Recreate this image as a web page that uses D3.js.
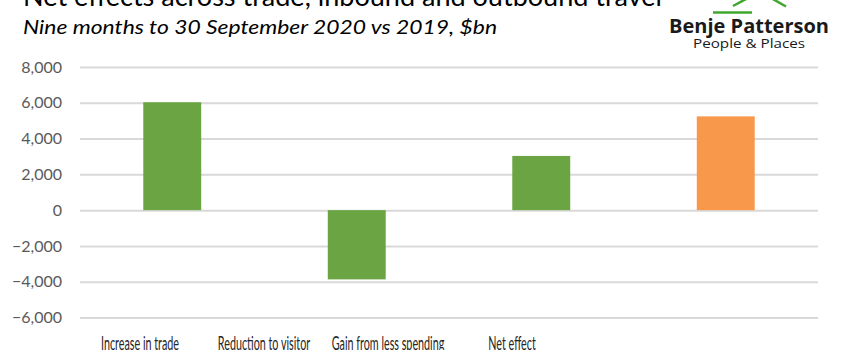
<!DOCTYPE html>
<html><head><meta charset="utf-8">
<script src="https://cdn.jsdelivr.net/npm/d3@7"></script>
<style>body{margin:0;background:#fff;} svg{display:block;}</style>
</head><body>
<svg id="chart" width="841" height="350"></svg>
<script>
const categories = ["Increase in trade", "Reduction to visitor", "Gain from less spending", "Net effect"];
const values = [6030, -3870, 3030, 5240];
const barColors = ["#6aa443", "#6aa443", "#6aa443", "#f7984a"];
const yTicks = [-6000, -4000, -2000, 0, 2000, 4000, 6000, 8000];
const title = "Net effects across trade, inbound and outbound travel";
const subtitle = "Nine months to 30 September 2020 vs 2019, $bn";

const svg = d3.select("#chart");
const plot = {left: 80, right: 818};

const y = d3.scaleLinear().domain([-6000, 8000]).range([317.5, 67]);
const x = d3.scaleBand().domain(categories).range([plot.left, plot.right]).paddingInner(0.686).paddingOuter(0.343);
const xLab = d3.scaleBand().domain(categories).range([78, 574]);

// gridlines + tick labels
const yAxis = d3.axisLeft(y).tickValues(yTicks).tickSize(-(plot.right - plot.left)).tickFormat(d3.format(","));
const ga = svg.append("g").attr("transform", `translate(${plot.left},0)`).call(yAxis);
ga.select(".domain").remove();
ga.selectAll(".tick line").attr("stroke", "#d9d9d9").attr("stroke-width", 2);
ga.selectAll(".tick text").attr("x", -18).attr("fill", "#595959")
  .style("font-family", "Lato, 'Open Sans', sans-serif").style("font-size", "16px");

// bars
svg.append("g").selectAll("rect").data(values).join("rect")
  .attr("x", (d, i) => x(categories[i]))
  .attr("width", x.bandwidth())
  .attr("y", d => y(Math.max(0, d)))
  .attr("height", d => Math.abs(y(d) - y(0)))
  .attr("fill", (d, i) => barColors[i]);

// category labels (condensed, as in the reference)
const labs = svg.append("g").selectAll("text").data(categories).join("text")
  .text(d => d)
  .attr("text-anchor", "middle")
  .attr("fill", "#262626")
  .style("font-family", "Lato, 'Open Sans', sans-serif").style("font-size", "19px");
const w0 = labs.nodes()[0].getComputedTextLength();
const sx = 78 / w0;
labs.attr("transform", d => `translate(${xLab(d) + xLab.bandwidth() / 2},350) scale(${sx},1)`);

// title (cut at top as in the reference)
svg.append("text").text(title).attr("x", 23).attr("y", 6)
  .attr("textLength", 639).attr("lengthAdjust", "spacingAndGlyphs")
  .attr("fill", "#000").style("font-family", "Lato, 'Open Sans', sans-serif").style("font-size", "26px");
svg.append("text").text(subtitle).attr("x", 23).attr("y", 34)
  .attr("textLength", 474).attr("lengthAdjust", "spacingAndGlyphs")
  .attr("fill", "#000").style("font-family", "Lato, 'Open Sans', sans-serif").style("font-size", "20px").style("font-style", "italic");

// logo
const logo = svg.append("g");
logo.append("line").attr("x1", 713).attr("x2", 752).attr("y1", 12.5).attr("y2", 12.5).attr("stroke", "#3fa62e").attr("stroke-width", 2.5);
logo.append("line").attr("x1", 733).attr("x2", 748).attr("y1", 6).attr("y2", -2).attr("stroke", "#3fa62e").attr("stroke-width", 2.5);
logo.append("line").attr("x1", 771).attr("x2", 786).attr("y1", -2).attr("y2", 6.5).attr("stroke", "#3fa62e").attr("stroke-width", 2.5);
logo.append("text").text("Benje Patterson").attr("x", 669).attr("y", 33)
  .attr("textLength", 160).attr("lengthAdjust", "spacingAndGlyphs")
  .attr("fill", "#1a1a1a").style("font-family", "'Open Sans', Lato, sans-serif").style("font-size", "19px").style("font-weight", "bold");
logo.append("text").text("People & Places").attr("x", 693).attr("y", 48)
  .attr("textLength", 112).attr("lengthAdjust", "spacingAndGlyphs")
  .attr("fill", "#1a1a1a").style("font-family", "'Open Sans', Lato, sans-serif").style("font-size", "13px");
</script>
</body></html>
